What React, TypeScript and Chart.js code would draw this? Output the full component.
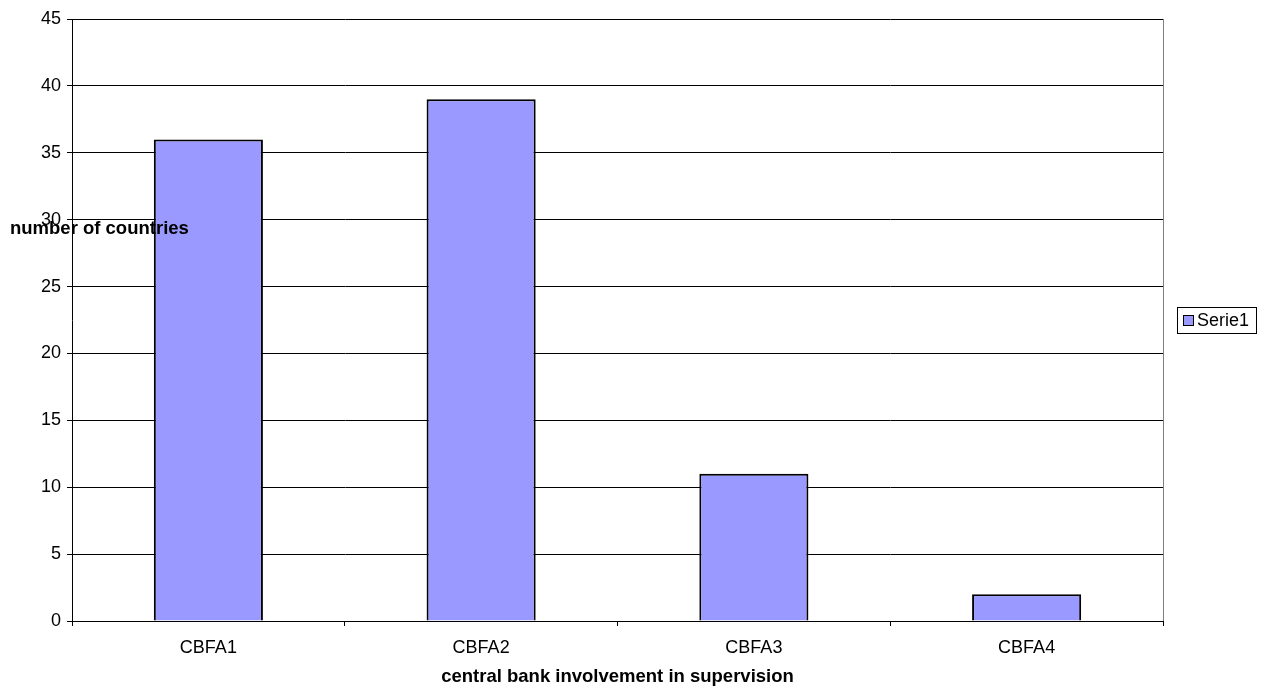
import React, { useEffect, useRef } from "react";
import { Chart, registerables } from "chart.js";

Chart.register(...registerables);

const categories = ["CBFA1", "CBFA2", "CBFA3", "CBFA4"];
const seriesName = "Serie1";
const seriesValues = [36, 39, 11, 2];
const yTitle = "number of countries";
const xTitle = "central bank involvement in supervision";

const FONT = "'Liberation Sans', Arial, sans-serif";
const FS = 18;
const FS_TITLE = 18.5;

const overlay = {
  id: "overlay",
  afterDraw(chart: any) {
    const { ctx, chartArea } = chart;
    ctx.save();
    // right border of plot area
    ctx.strokeStyle = "#808080";
    ctx.lineWidth = 1;
    ctx.beginPath();
    ctx.moveTo(Math.round(chartArea.right) + 0.5, chartArea.top);
    ctx.lineTo(Math.round(chartArea.right) + 0.5, chartArea.bottom);
    ctx.stroke();
    // titles
    ctx.fillStyle = "#000";
    ctx.font = `bold ${FS_TITLE}px ${FONT}`;
    ctx.textBaseline = "middle";
    ctx.textAlign = "left";
    ctx.fillText(yTitle, 10, 229);
    ctx.textAlign = "center";
    ctx.fillText(xTitle, (chartArea.left + chartArea.right) / 2, 677);
    // legend
    const lx = 1177, ly = 307, lw = 79, lh = 26;
    ctx.strokeStyle = "#000";
    ctx.fillStyle = "#fff";
    ctx.fillRect(lx, ly, lw, lh);
    ctx.strokeRect(lx + 0.5, ly + 0.5, lw, lh);
    ctx.fillStyle = "#9999FF";
    ctx.fillRect(1183, 315, 10, 10);
    ctx.strokeRect(1183.5, 315.5, 10, 10);
    ctx.fillStyle = "#000";
    ctx.font = `${FS}px ${FONT}`;
    ctx.textAlign = "left";
    ctx.fillText(seriesName, 1197, 321);
    ctx.restore();
  },
};

export default function App() {
  const ref = useRef<HTMLCanvasElement>(null);
  useEffect(() => {
    const chart = new Chart(ref.current!, {
      type: "bar",
      data: {
        labels: categories,
        datasets: [
          {
            label: seriesName,
            data: seriesValues,
            backgroundColor: "#9999FF",
            borderColor: "#000",
            borderWidth: 2,
            categoryPercentage: 0.8,
            barPercentage: 0.5,
          },
        ],
      },
      options: {
        animation: false,
        responsive: false,
        maintainAspectRatio: false,
        layout: { padding: { left: 0, right: 107, top: 19, bottom: 0 } },
        plugins: { legend: { display: false }, tooltip: { enabled: false } },
        scales: {
          x: {
            offset: true,
            grid: {
              offset: true,
              drawOnChartArea: false,
              drawTicks: true,
              tickLength: 5,
              color: "#000",
            },
            border: { color: "#000" },
            ticks: { color: "#000", font: { family: FONT, size: FS }, padding: 11 },
            afterFit: (s: any) => {
              s.height = 68;
            },
          },
          y: {
            min: 0,
            max: 45,
            ticks: { stepSize: 5, color: "#000", font: { family: FONT, size: FS }, padding: 6 },
            grid: { color: "#000", tickLength: 5 },
            border: { color: "#000" },
            afterFit: (s: any) => {
              s.width = 72;
            },
          },
        },
      },
      plugins: [overlay],
    });
    return () => chart.destroy();
  }, []);
  return (
    <div style={{ position: "absolute", left: 0, top: 0, width: 1270, height: 689, background: "#fff" }}>
      <canvas ref={ref} width={1270} height={689} style={{ width: 1270, height: 689 }} />
    </div>
  );
}
